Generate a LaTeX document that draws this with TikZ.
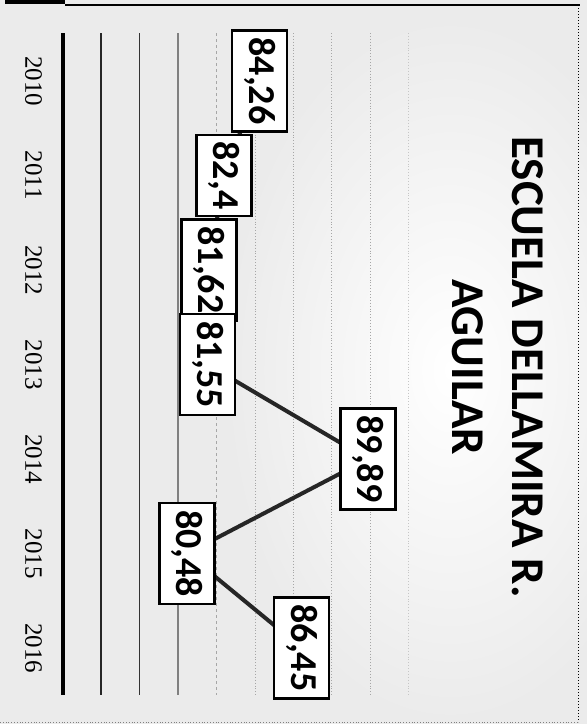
\documentclass[tikz,border=0pt]{standalone}
\usepackage{fontspec}
\setmainfont{Carlito}
\newfontfamily\yearfont{Liberation Serif}
\begin{document}
\begin{tikzpicture}[x=1pt,y=-1pt,
  declare function={vx(\v)=62.3+(\v-74)*19.24;},
  valbox/.style={rectangle,draw=black,fill=white,line width=2.2pt,rotate=-90,
    font=\bfseries\fontsize{38}{38}\selectfont,inner xsep=7pt,inner ysep=0pt,minimum height=55pt},
  yearlab/.style={rotate=-90,font=\yearfont\fontsize{25}{25}\selectfont,inner sep=0pt},
  grid/.style={line width=0.9pt,gray!70},
  serie/.style={line width=4pt,black!85}]
\useasboundingbox (0,0) rectangle (587,724);
% fondo escaneado
\fill[gray!16] (0,0) rectangle (587,724);
\shade[inner color=white,outer color=gray!16] (450,370) ellipse [x radius=230,y radius=360];
% marco
\draw[line width=4pt] (5,2)--(65,2);
\draw[line width=1.5pt] (65,5)--(580,5);
\draw[line width=1pt,dotted] (578,5)--(578,722);
\draw[line width=0.8pt,dotted,gray] (0,722)--(578,722);

% lineas de escala
\draw[line width=3.5pt] (63,33)--(63,695);
\draw[line width=1.2pt,black!85] (101,33)--(101,695);
\draw[line width=0.9pt,black!80] (139,33)--(139,695);
\draw[line width=1.2pt,gray] (178,33)--(178,695);
\draw[grid,dashed] (216,33)--(216,695);
\draw[grid,dotted] (255,33)--(255,695);
\draw[grid,dotted] (293,33)--(293,695);
\draw[grid,dotted] (331,33)--(331,695);
\draw[grid,dotted] (370,33)--(370,695);
\draw[grid,dotted,gray!45] (408,33)--(408,695);

% puntos
\coordinate (p1) at ({vx(84.26)},81);
\coordinate (p2) at ({vx(82.4)},175.5);
\coordinate (p3) at ({vx(81.62)},270);
\coordinate (p4) at ({vx(81.55)},364.5);
\coordinate (p5) at ({vx(89.89)},459);
\coordinate (p6) at ({vx(80.48)},553.5);
\coordinate (p7) at ({vx(86.45)},648);

\draw[serie] (p1)--(p2)--(p3)--(p4)--(p5)--(p6)--(p7);

\node (d1) at (p1)[valbox]{84,26};
\node (d2) at (p2)[valbox]{82,4};
\node (d3) at (p3)[valbox]{81,62};
\node (d4) at (p4)[valbox]{81,55};
\node (d5) at (p5)[valbox]{89,89};
\node (d6) at (p6)[valbox]{80,48};
\node (d7) at (p7)[valbox]{86,45};

% años
\node (y1) at (33.5,81)[yearlab]{2010};
\node (y2) at (33.5,175.5)[yearlab]{2011};
\node (y3) at (33.5,270)[yearlab]{2012};
\node (y4) at (33.5,364.5)[yearlab]{2013};
\node (y5) at (33.5,459)[yearlab]{2014};
\node (y6) at (33.5,553.5)[yearlab]{2015};
\node (y7) at (33.5,648)[yearlab]{2016};

% titulo
\node (titulo) at (498,367)[rotate=-90,align=center,inner sep=0pt,
  font=\bfseries\fontsize{47}{60}\selectfont]{ESCUELA DELLAMIRA R.\\AGUILAR};
\end{tikzpicture}
\end{document}
